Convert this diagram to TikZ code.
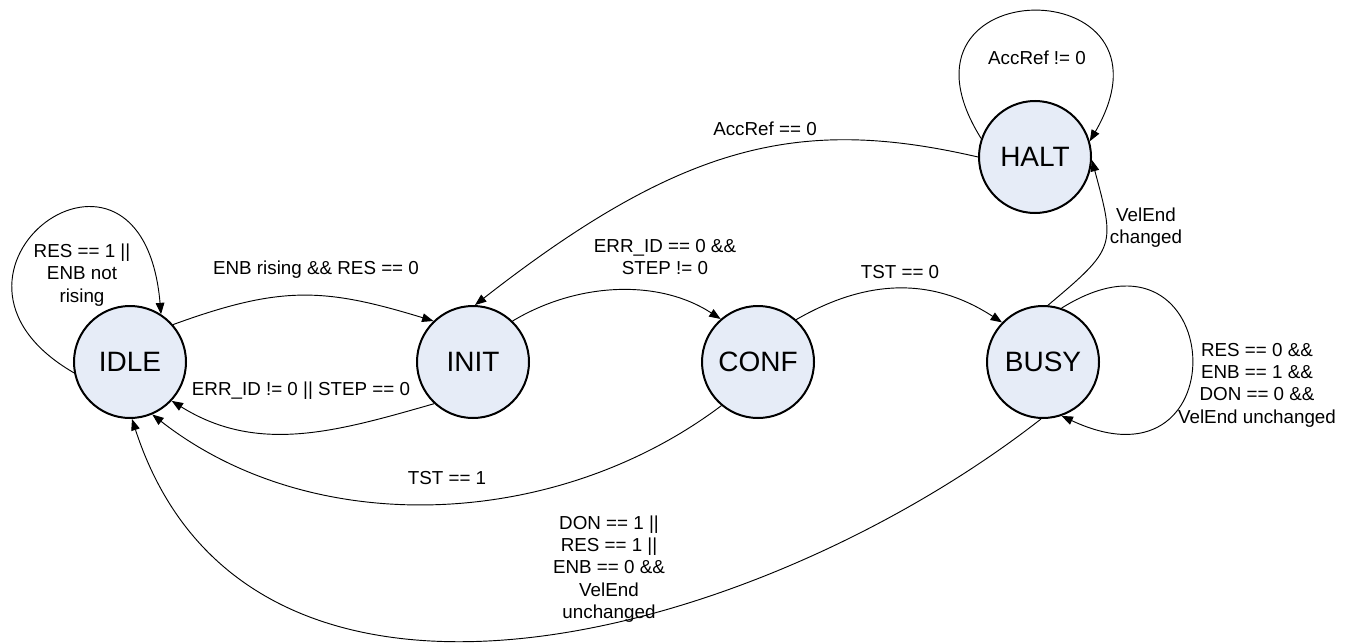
\documentclass[tikz,border=0pt]{standalone}
\usepackage{fontspec}
\setmainfont{Liberation Sans}
\usetikzlibrary{arrows.meta}
\definecolor{statefill}{RGB}{230,236,247}
\begin{document}
\begin{tikzpicture}[x=0.75pt,y=0.75pt,
  state/.style={circle,draw=black,line width=1.5pt,fill=statefill,minimum size=84pt,inner sep=0pt,font=\fontsize{21}{25}\selectfont},
  lbl/.style={align=center,inner sep=0pt,font=\fontsize{14.1}{16.7}\selectfont},
  tr/.style={draw=black,line width=0.7pt,-{Triangle[length=8.5pt,width=6.5pt]}}]
\useasboundingbox (0,0) rectangle (1351,-642);
\node[state] (IDLE) at (130,-362) {IDLE};
\node[state] (INIT) at (473,-362) {INIT};
\node[state] (CONF) at (758,-362) {CONF};
\node[state] (BUSY) at (1043,-362) {BUSY};
\node[state] (HALT) at (1035,-157) {HALT};

\draw[tr] (IDLE.191) .. controls +(150:150pt) and +(95:165pt) .. (IDLE.57);
\draw[tr] (IDLE.41) .. controls +(20:86pt) and +(163:86pt) .. (INIT.134);
\draw[tr] (INIT.-133) .. controls +(196:76pt) and +(-32:76pt) .. (IDLE.-43);
\draw[tr] (INIT.46) .. controls +(31:56pt) and +(147:56pt) .. (CONF.131);
\draw[tr] (CONF.48) .. controls +(30:62pt) and +(147:62pt) .. (BUSY.136);
\draw[tr] (CONF.230) .. controls +(217:154pt) and +(-38:154pt) .. (IDLE.293);
\draw[tr] (BUSY.-92) .. controls +(218:267pt) and +(-72:285pt) .. (IDLE.-88);
\draw[tr] (BUSY.71) .. controls +(32:146pt) and +(-25:150pt) .. (BUSY.-71);
\draw[tr] (BUSY.85) .. controls +(40:67pt) and +(-75:67pt) .. (HALT.-3);
\draw[tr] (HALT.161) .. controls +(122:150pt) and +(60:150pt) .. (HALT.16);
\draw[tr] (HALT.180) .. controls +(167:135pt) and +(38:200pt) .. (INIT.88);

\node[lbl] (l1) at (82,-275) {RES == 1 ||\\ENB not\\rising};
\node[lbl] (l2) at (316,-270) {ENB rising \&\& RES == 0};
\node[lbl] (l3) at (301,-391) {ERR\_ID != 0 || STEP == 0};
\node[lbl] (l4) at (665,-257) {ERR\_ID == 0 \&\&\\STEP != 0};
\node[lbl] (l5) at (900,-272) {TST == 0};
\node[lbl] (l6) at (447,-478) {TST == 1};
\node[lbl] (l7) at (609,-569) {DON == 1 ||\\RES == 1 ||\\ENB == 0 \&\&\\VelEnd\\unchanged};
\node[lbl] (l8) at (1257,-385) {RES == 0 \&\&\\ENB == 1 \&\&\\DON == 0 \&\&\\VelEnd unchanged};
\node[lbl] (l9) at (1146,-228) {VelEnd\\changed};
\node[lbl] (l10) at (1037,-58) {AccRef != 0};
\node[lbl] (l11) at (765,-129) {AccRef == 0};
\end{tikzpicture}
\end{document}
